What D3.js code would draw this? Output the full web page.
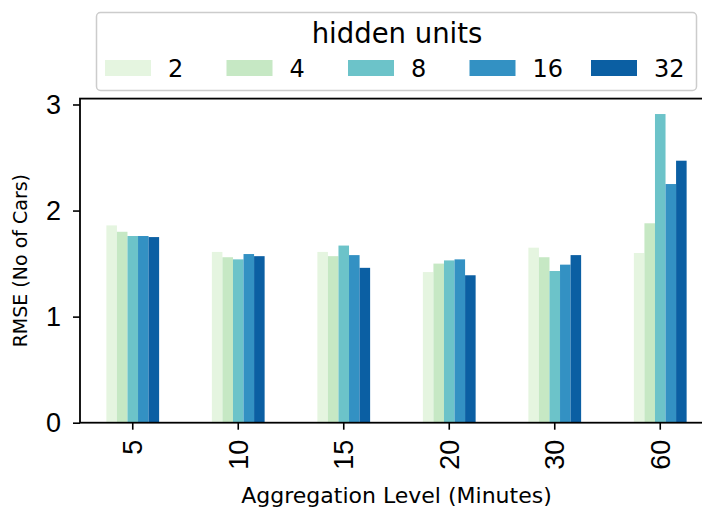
<!DOCTYPE html>
<html>
<head>
<meta charset="utf-8">
<script src="https://cdn.jsdelivr.net/npm/d3@7"></script>
<style>
  body { margin: 0; background: #fff; }
  svg { display: block; font-family: "DejaVu Sans", sans-serif; }
</style>
</head>
<body>
<div id="chart"></div>
<script>
// aggregation levels (minutes) on the x axis
const levels = ["5", "10", "15", "20", "30", "60"];
// hidden unit sizes, one bar per size in each group
const units = ["2", "4", "8", "16", "32"];
// RMSE per hidden unit size, one value per aggregation level
const rmse2  = [1.86, 1.61, 1.61, 1.42, 1.65, 1.60];
const rmse4  = [1.80, 1.56, 1.57, 1.50, 1.56, 1.88];
const rmse8  = [1.76, 1.54, 1.67, 1.53, 1.43, 2.91];
const rmse16 = [1.76, 1.59, 1.58, 1.54, 1.49, 2.25];
const rmse32 = [1.75, 1.57, 1.46, 1.39, 1.58, 2.47];
const yTicks = [0, 1, 2, 3];

const series = [rmse2, rmse4, rmse8, rmse16, rmse32];
const colors = ["#e5f5e0", "#c6e8c4", "#6cc3c9", "#3391c3", "#0b5fa3"];

const width = 702, height = 511;
// the axes run past the right edge of the picture (figure is cropped)
const plot = {left: 80, right: 713, top: 98.6, bottom: 422.7};

const svg = d3.select("#chart").append("svg")
    .attr("width", width)
    .attr("height", height);

const x = d3.scaleBand()
    .domain(levels)
    .range([plot.left, plot.right])
    .paddingInner(0.5)
    .paddingOuter(0.25);

const xInner = d3.scaleBand()
    .domain(units)
    .range([0, x.bandwidth()]);

const yMax = d3.max(series.flat()) * 1.05;
const y = d3.scaleLinear()
    .domain([0, yMax])
    .range([plot.bottom, plot.top]);

// bars
const groups = svg.append("g").selectAll("g")
    .data(levels)
    .join("g")
    .attr("transform", d => `translate(${x(d)},0)`);

groups.selectAll("rect")
    .data((d, i) => units.map((u, j) => ({unit: u, value: series[j][i], color: colors[j]})))
    .join("rect")
    .attr("x", d => xInner(d.unit))
    .attr("width", xInner.bandwidth())
    .attr("y", d => y(d.value))
    .attr("height", d => y(0) - y(d.value))
    .attr("fill", d => d.color);

// y axis
const yAxis = svg.append("g")
    .attr("transform", `translate(${plot.left},0)`)
    .call(d3.axisLeft(y).tickValues(yTicks).tickFormat(d3.format("d")).tickSize(7).tickPadding(12));
yAxis.select(".domain").remove();
yAxis.selectAll("line").attr("stroke", "#000").attr("stroke-width", 1.6);
yAxis.selectAll("text").style("font-size", "27px").attr("fill", "#000");

// x axis
const xAxis = svg.append("g")
    .attr("transform", `translate(0,${plot.bottom})`)
    .call(d3.axisBottom(x).tickSize(7).tickSizeOuter(0));
xAxis.select(".domain").remove();
xAxis.selectAll("line").attr("stroke", "#000").attr("stroke-width", 1.6);
xAxis.selectAll("text")
    .style("font-size", "27px")
    .attr("fill", "#000")
    .attr("transform", "rotate(-90)")
    .attr("text-anchor", "end")
    .attr("x", -17)
    .attr("y", 0)
    .attr("dy", "0.35em");

// frame
svg.append("rect")
    .attr("x", plot.left)
    .attr("y", plot.top)
    .attr("width", plot.right - plot.left)
    .attr("height", plot.bottom - plot.top)
    .attr("fill", "none")
    .attr("stroke", "#000")
    .attr("stroke-width", 1.8);

// axis labels
svg.append("text")
    .attr("x", (plot.left + plot.right) / 2)
    .attr("y", 503)
    .attr("text-anchor", "middle")
    .style("font-size", "22px")
    .text("Aggregation Level (Minutes)");

svg.append("text")
    .attr("transform", `translate(27,${(plot.top + plot.bottom) / 2}) rotate(-90)`)
    .attr("text-anchor", "middle")
    .style("font-size", "19px")
    .text("RMSE (No of Cars)");

// legend
const legend = svg.append("g");
legend.append("rect")
    .attr("x", 96.5).attr("y", 12.5)
    .attr("width", 600).attr("height", 78)
    .attr("rx", 4)
    .attr("fill", "#fff").attr("fill-opacity", 0.8)
    .attr("stroke", "#cccccc").attr("stroke-width", 1.5);

legend.append("text")
    .attr("x", 397).attr("y", 43)
    .attr("text-anchor", "middle")
    .style("font-size", "27.5px")
    .text("hidden units");

const item = legend.selectAll("g.item")
    .data(units)
    .join("g")
    .attr("class", "item")
    .attr("transform", (d, i) => `translate(${105 + i * 121.5},60)`);
item.append("rect")
    .attr("width", 46).attr("height", 16)
    .attr("fill", (d, i) => colors[i]);
item.append("text")
    .attr("x", 63).attr("y", 17)
    .style("font-size", "24px")
    .text(d => d);
</script>
</body>
</html>
